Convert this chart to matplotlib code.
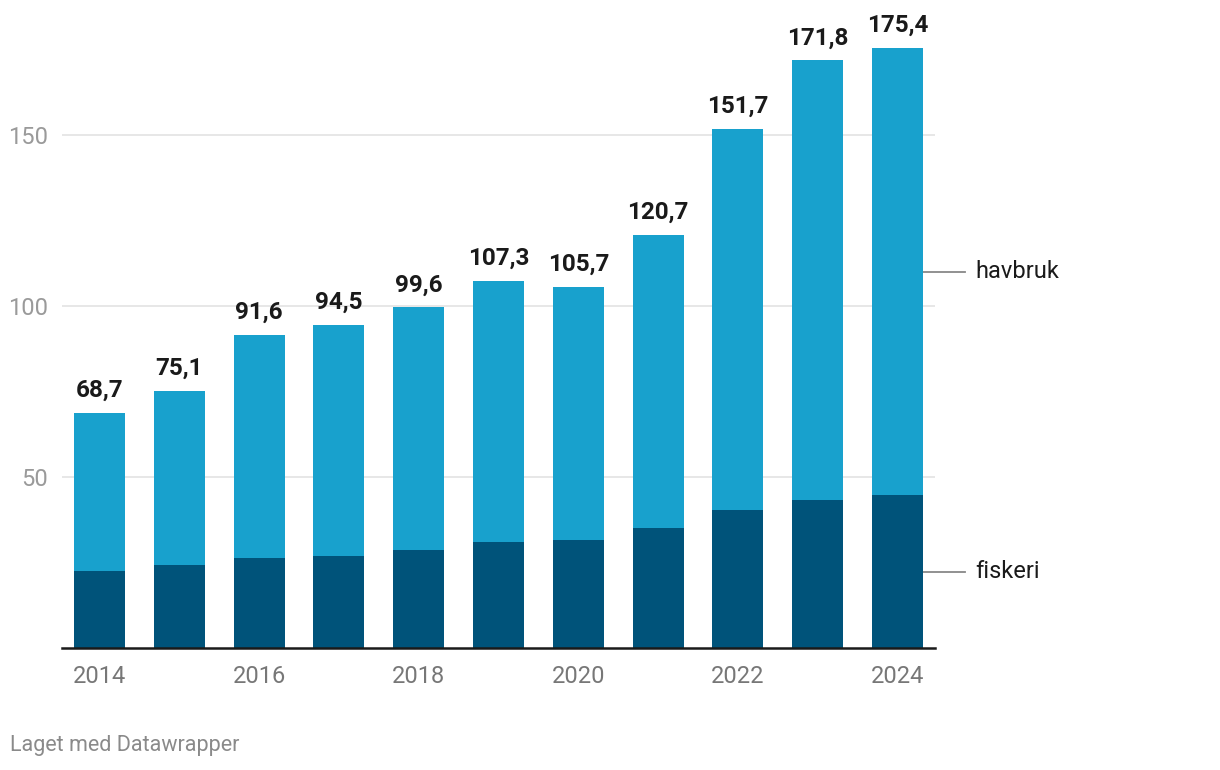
import matplotlib
matplotlib.use("Agg")
import matplotlib.pyplot as plt
import numpy as np

plt.rcParams['font.family'] = ['Roboto', 'DejaVu Sans']

years = [2014, 2015, 2016, 2017, 2018, 2019, 2020, 2021, 2022, 2023, 2024]
totals = [68.7, 75.1, 91.6, 94.5, 99.6, 107.3, 105.7, 120.7, 151.7, 171.8, 175.4]
fiskeri = [22.5, 24.2, 26.2, 26.9, 28.7, 31.0, 31.6, 35.1, 40.4, 43.3, 44.7]
havbruk = [round(t - f, 1) for t, f in zip(totals, fiskeri)]
yticks = [50, 100, 150]
xtick_years = [2014, 2016, 2018, 2020, 2022, 2024]

c_fisk = "#00537a"
c_hav = "#18a1cd"

fig = plt.figure(figsize=(12.2, 7.7), dpi=100)
W, H = 1220, 770
left, right, bottom_px = 62, 935, 648
ymax = 180
ppu = 3.42
top_px = bottom_px - ymax * ppu
ax = fig.add_axes([left / W, 1 - bottom_px / H, (right - left) / W, (bottom_px - top_px) / H])

x = np.arange(len(years))
ax.bar(x, fiskeri, width=0.64, color=c_fisk, zorder=3)
ax.bar(x, havbruk, bottom=fiskeri, width=0.64, color=c_hav, zorder=3)

ax.set_ylim(0, ymax)
ax.set_xlim(-0.47, len(years) - 1 + 0.47)

for s in ['top', 'right', 'left']:
    ax.spines[s].set_visible(False)
ax.spines['bottom'].set_color('#1a1a1a')
ax.spines['bottom'].set_linewidth(1.8)
ax.spines['bottom'].set_zorder(5)

ax.set_yticks(yticks)
ax.set_yticklabels([str(v) for v in yticks])
ax.tick_params(axis='y', length=0, pad=10, labelsize=17, labelcolor='#9a9a9a')
ax.yaxis.grid(True, color='#e3e3e3', linewidth=1.2, zorder=0)
ax.set_axisbelow(True)

ax.set_xticks([years.index(y) for y in xtick_years])
ax.set_xticklabels([str(y) for y in xtick_years])
ax.tick_params(axis='x', length=0, pad=12, labelsize=17, labelcolor='#777777')

for xi, t in zip(x, totals):
    ax.text(xi, t + 3.2, f"{t:.1f}".replace('.', ','), ha='center', va='bottom',
            fontsize=17.5, fontweight='bold', color='#1a1a1a')

# direct labels
last = len(years) - 1
hx0 = last + 0.32
hx1 = last + 0.85
yf = fiskeri[-1] / 2
yh = fiskeri[-1] + havbruk[-1] / 2
for yy, lab in [(yh, 'havbruk'), (yf, 'fiskeri')]:
    ax.plot([hx0, hx1], [yy, yy], color='#888888', lw=1.3, clip_on=False)
    ax.text(hx1 + 0.12, yy, lab, ha='left', va='center', fontsize=17, color='#1a1a1a', clip_on=False)

fig.text(10 / W, 1 - 746 / H, "Laget med Datawrapper", ha='left', va='center',
         fontsize=15.5, color='#8a8a8a')

fig.savefig("out.png", dpi=100)
